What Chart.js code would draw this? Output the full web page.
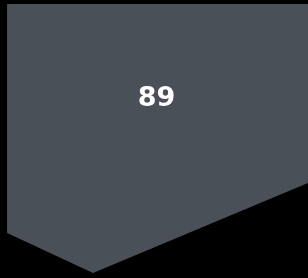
<!DOCTYPE html>
<html>
<head>
<meta charset="utf-8">
<script src="https://cdn.jsdelivr.net/npm/chart.js@4.4.1/dist/chart.umd.min.js"></script>
<style>
  html, body { margin: 0; padding: 0; background: #000; }
  #wrap { width: 308px; height: 278px; }
</style>
</head>
<body>
<div id="wrap"><canvas id="kpi-chart"></canvas></div>
<script>
// value shown on the arrow
const labels = ['89'];
const values = [89];

// arrow outline, in percent of the chart area (x left->right, y top->bottom)
const shapeX = [2.3, 100, 100, 30.2, 2.3, 2.3];
const shapeY = [1.4, 1.4, 65.8, 98.2, 83.8, 1.4];

// where the label sits (baseline), in the same percent units
const labelX = [50.8];
const labelY = [38.3];

const points = shapeX.map((x, i) => ({ x: x, y: shapeY[i] }));

// draws the number inside the arrow
const valueLabel = {
    id: 'valueLabel',
    afterDatasetsDraw(chart) {
        const ctx = chart.ctx;
        const xs = chart.scales.x, ys = chart.scales.y;
        ctx.save();
        ctx.fillStyle = '#ffffff';
        ctx.font = 'bold 27px "DejaVu Sans"';
        ctx.textAlign = 'center';
        ctx.textBaseline = 'alphabetic';
        values.forEach((v, i) => {
            ctx.fillText(labels[i], xs.getPixelForValue(labelX[i]), ys.getPixelForValue(labelY[i]));
        });
        ctx.restore();
    }
};

const ctx = document.getElementById('kpi-chart').getContext('2d');
new Chart(ctx, {
    type: 'line',
    data: {
        datasets: [{
            data: points,
            borderWidth: 0,
            borderColor: 'rgba(0,0,0,0)',
            backgroundColor: '#4a5057',
            pointRadius: 0,
            tension: 0,
            fill: 'shape'
        }]
    },
    options: {
        responsive: true,
        maintainAspectRatio: false,
        animation: false,
        layout: { padding: 0 },
        plugins: { legend: { display: false }, tooltip: { enabled: false } },
        scales: {
            x: { type: 'linear', min: 0, max: 100, display: false },
            y: { type: 'linear', min: 0, max: 100, reverse: true, display: false }
        }
    },
    plugins: [valueLabel]
});
</script>
</body>
</html>
